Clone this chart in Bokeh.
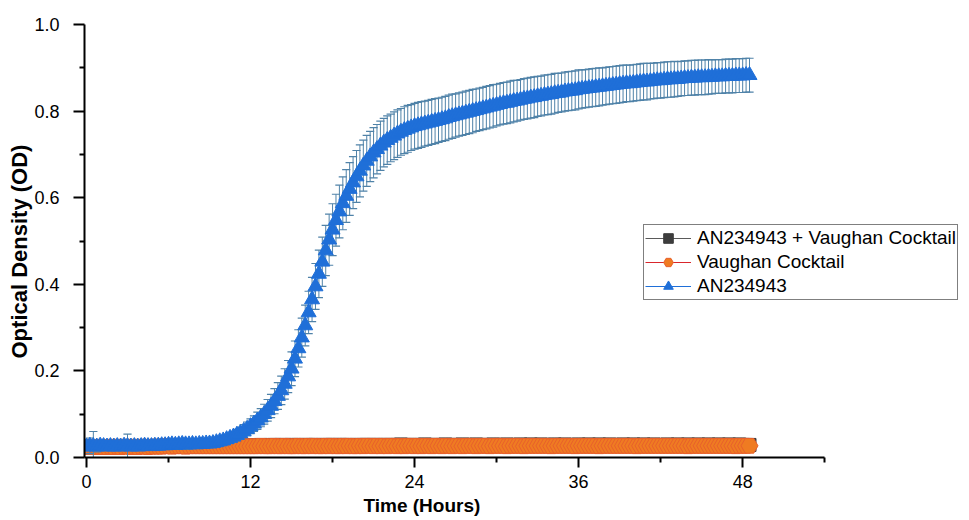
from bokeh.plotting import figure
from bokeh.models import (FixedTicker, Legend, LegendItem, ColumnDataSource,
                          Range1d, PrintfTickFormatter, Title)
from bokeh.embed import file_html
from bokeh.resources import INLINE

# ---------------- data ----------------
interval_h = 0.25  # sampling interval (hours)

x_ticks = [0, 12, 24, 36, 48]
x_minor = [6, 18, 30, 42, 54]
y_ticks = [0.0, 0.2, 0.4, 0.6, 0.8, 1.0]
y_minor = [0.1, 0.3, 0.5, 0.7, 0.9]

series_names = ["AN234943 + Vaughan Cocktail", "Vaughan Cocktail", "AN234943"]

an_od = [
    0.025, 0.027, 0.026, 0.025, 0.027, 0.026, 0.025, 0.026, 0.025,
    0.026, 0.025, 0.027, 0.026, 0.025, 0.026, 0.025, 0.026, 0.027, 0.026, 0.026, 0.027,
    0.027, 0.028, 0.028, 0.029, 0.030, 0.029, 0.030, 0.031, 0.030, 0.030, 0.031, 0.030, 0.031, 0.031, 0.032, 0.032,
    0.033, 0.035, 0.037, 0.039, 0.042, 0.045, 0.048, 0.052, 0.056, 0.061, 0.066, 0.072,
    0.078, 0.085, 0.092, 0.100, 0.109, 0.119, 0.130, 0.142, 0.155, 0.170, 0.187, 0.205,
    0.228, 0.252, 0.277, 0.305, 0.335, 0.365, 0.395, 0.424, 0.452, 0.478, 0.503, 0.526,
    0.548, 0.568, 0.587, 0.604, 0.620, 0.635, 0.649, 0.662, 0.674, 0.685, 0.695, 0.704,
    0.712, 0.720, 0.727, 0.733, 0.738, 0.743, 0.748, 0.752, 0.756, 0.759, 0.762, 0.765,
    0.767, 0.769, 0.771, 0.773, 0.775, 0.777, 0.779, 0.781, 0.783, 0.786, 0.788, 0.790,
    0.792, 0.794, 0.796, 0.798, 0.800, 0.802, 0.804, 0.806, 0.808, 0.810, 0.812, 0.814,
    0.816, 0.818, 0.819, 0.821, 0.823, 0.824, 0.826, 0.828, 0.829, 0.831, 0.832, 0.834,
    0.835, 0.837, 0.838, 0.839, 0.841, 0.842, 0.843, 0.845, 0.846, 0.847, 0.848, 0.850,
    0.851, 0.852, 0.853, 0.854, 0.855, 0.856, 0.857, 0.858, 0.859, 0.860, 0.861, 0.862,
    0.863, 0.864, 0.864, 0.865, 0.866, 0.867, 0.868, 0.868, 0.869, 0.870, 0.871, 0.871,
    0.872, 0.873, 0.873, 0.874, 0.874, 0.875, 0.876, 0.876, 0.877, 0.877, 0.878, 0.878,
    0.878, 0.879, 0.879, 0.880, 0.880, 0.880, 0.881, 0.881, 0.881, 0.882, 0.882, 0.882,
    0.883, 0.883,
]
an_err = [
    0.010, 0.018, 0.034, 0.012, 0.008, 0.007, 0.006, 0.007, 0.006,
    0.006, 0.007, 0.006, 0.028, 0.007, 0.006, 0.006, 0.007, 0.006, 0.006, 0.007, 0.006,
    0.007, 0.008, 0.008, 0.009, 0.010, 0.009, 0.010, 0.011, 0.010, 0.010, 0.009, 0.009, 0.008, 0.008, 0.008, 0.008,
    0.008, 0.009, 0.009, 0.010, 0.010, 0.011, 0.012, 0.013, 0.014, 0.015, 0.016, 0.017,
    0.018, 0.020, 0.021, 0.023, 0.025, 0.027, 0.029, 0.031, 0.033, 0.035, 0.037, 0.039,
    0.041, 0.043, 0.045, 0.047, 0.049, 0.051, 0.053, 0.055, 0.057, 0.058, 0.059, 0.060,
    0.060, 0.061, 0.061, 0.061, 0.061, 0.060, 0.060, 0.060, 0.059, 0.059, 0.058, 0.058,
    0.057, 0.057, 0.056, 0.056, 0.055, 0.055, 0.055, 0.054, 0.054, 0.054, 0.053, 0.053,
    0.053, 0.053, 0.052, 0.052, 0.052, 0.052, 0.051, 0.051, 0.051, 0.051, 0.051, 0.050,
    0.050, 0.050, 0.050, 0.050, 0.050, 0.049, 0.049, 0.049, 0.049, 0.049, 0.049, 0.048,
    0.048, 0.048, 0.048, 0.048, 0.048, 0.047, 0.047, 0.047, 0.047, 0.047, 0.047, 0.046,
    0.046, 0.046, 0.046, 0.046, 0.046, 0.045, 0.045, 0.045, 0.045, 0.045, 0.045, 0.045,
    0.044, 0.044, 0.044, 0.044, 0.044, 0.044, 0.043, 0.043, 0.043, 0.043, 0.043, 0.043,
    0.043, 0.042, 0.042, 0.042, 0.042, 0.042, 0.042, 0.042, 0.041, 0.041, 0.041, 0.041,
    0.041, 0.041, 0.041, 0.041, 0.040, 0.040, 0.040, 0.040, 0.040, 0.040, 0.040, 0.040,
    0.040, 0.040, 0.039, 0.039, 0.039, 0.039, 0.039, 0.039, 0.039, 0.039, 0.039, 0.039,
    0.039, 0.039,
]

vc_od = [
    0.024, 0.025, 0.024, 0.024, 0.025, 0.024, 0.024, 0.025, 0.024,
    0.025, 0.024, 0.025, 0.025, 0.024, 0.025, 0.024, 0.025, 0.025, 0.024, 0.025, 0.025,
    0.025, 0.025, 0.026, 0.026, 0.025, 0.026, 0.026, 0.026, 0.025, 0.026, 0.026, 0.026, 0.026, 0.026, 0.026, 0.026,
    0.026, 0.026, 0.026, 0.026, 0.026, 0.026, 0.026, 0.026, 0.026, 0.026, 0.026, 0.026,
    0.026, 0.026, 0.027, 0.026, 0.026, 0.026, 0.027, 0.026, 0.026, 0.027, 0.026, 0.026,
    0.026, 0.027, 0.026, 0.026, 0.027, 0.026, 0.027, 0.026, 0.026, 0.027, 0.026, 0.027,
    0.026, 0.026, 0.027, 0.026, 0.027, 0.026, 0.026, 0.027, 0.026, 0.027, 0.027, 0.026,
    0.027, 0.026, 0.027, 0.026, 0.027, 0.027, 0.026, 0.027, 0.026, 0.027, 0.027, 0.026,
    0.027, 0.026, 0.027, 0.027, 0.026, 0.027, 0.027, 0.026, 0.027, 0.027, 0.026, 0.027,
    0.027, 0.026, 0.027, 0.027, 0.027, 0.026, 0.027, 0.027, 0.027, 0.026, 0.027, 0.027,
    0.027, 0.027, 0.026, 0.027, 0.027, 0.027, 0.027, 0.026, 0.027, 0.027, 0.027, 0.027,
    0.027, 0.027, 0.027, 0.026, 0.027, 0.027, 0.027, 0.027, 0.027, 0.027, 0.026, 0.027,
    0.027, 0.027, 0.027, 0.027, 0.027, 0.026, 0.027, 0.027, 0.027, 0.027, 0.027, 0.027,
    0.027, 0.027, 0.027, 0.027, 0.026, 0.027, 0.027, 0.027, 0.027, 0.027, 0.027, 0.027,
    0.027, 0.027, 0.027, 0.027, 0.027, 0.027, 0.027, 0.026, 0.027, 0.027, 0.027, 0.027,
    0.027, 0.027, 0.027, 0.027, 0.027, 0.027, 0.027, 0.027, 0.027, 0.026, 0.027, 0.027,
    0.027, 0.027,
]
vc_err = [
    0.006, 0.005, 0.004, 0.004, 0.003, 0.004, 0.003, 0.003, 0.004,
    0.003, 0.003, 0.004, 0.003, 0.003, 0.003, 0.004, 0.003, 0.003, 0.003, 0.003, 0.003,
    0.003, 0.003, 0.003, 0.003, 0.004, 0.003, 0.003, 0.003, 0.003, 0.003, 0.003, 0.003, 0.003, 0.003, 0.003, 0.003,
    0.003, 0.003, 0.003, 0.003, 0.003, 0.003, 0.003, 0.003, 0.003, 0.003, 0.003, 0.003,
    0.003, 0.003, 0.003, 0.003, 0.003, 0.003, 0.003, 0.003, 0.003, 0.003, 0.003, 0.003,
    0.003, 0.003, 0.003, 0.003, 0.003, 0.003, 0.003, 0.003, 0.003, 0.003, 0.003, 0.003,
    0.003, 0.003, 0.003, 0.003, 0.003, 0.003, 0.003, 0.003, 0.003, 0.003, 0.003, 0.003,
    0.003, 0.003, 0.003, 0.003, 0.003, 0.003, 0.003, 0.003, 0.003, 0.003, 0.003, 0.003,
    0.003, 0.003, 0.003, 0.003, 0.003, 0.003, 0.003, 0.003, 0.003, 0.003, 0.003, 0.003,
    0.003, 0.003, 0.003, 0.003, 0.003, 0.003, 0.003, 0.003, 0.003, 0.003, 0.003, 0.003,
    0.003, 0.003, 0.003, 0.003, 0.003, 0.003, 0.003, 0.003, 0.003, 0.003, 0.003, 0.003,
    0.003, 0.003, 0.003, 0.003, 0.003, 0.003, 0.003, 0.003, 0.003, 0.003, 0.003, 0.003,
    0.003, 0.003, 0.003, 0.003, 0.003, 0.003, 0.003, 0.003, 0.003, 0.003, 0.003, 0.003,
    0.003, 0.003, 0.003, 0.003, 0.003, 0.003, 0.003, 0.003, 0.003, 0.003, 0.003, 0.003,
    0.003, 0.003, 0.003, 0.003, 0.003, 0.003, 0.003, 0.003, 0.003, 0.003, 0.003, 0.003,
    0.003, 0.003, 0.003, 0.003, 0.003, 0.003, 0.003, 0.003, 0.003, 0.003, 0.003, 0.003,
    0.003, 0.003,
]

combo_od = [
    0.025, 0.026, 0.025, 0.026, 0.025, 0.026, 0.025, 0.026, 0.026,
    0.026, 0.025, 0.026, 0.026, 0.025, 0.026, 0.026, 0.026, 0.026, 0.026, 0.026, 0.026,
    0.027, 0.026, 0.027, 0.027, 0.026, 0.027, 0.027, 0.027, 0.026, 0.027, 0.027, 0.027, 0.027, 0.027, 0.027, 0.028,
    0.027, 0.028, 0.028, 0.027, 0.028, 0.028, 0.028, 0.028, 0.028, 0.028, 0.028, 0.028,
    0.028, 0.028, 0.029, 0.028, 0.028, 0.029, 0.029, 0.028, 0.029, 0.029, 0.028, 0.029,
    0.029, 0.029, 0.028, 0.029, 0.029, 0.029, 0.029, 0.028, 0.029, 0.029, 0.029, 0.029,
    0.029, 0.029, 0.029, 0.029, 0.029, 0.028, 0.029, 0.029, 0.029, 0.029, 0.029, 0.029,
    0.029, 0.029, 0.029, 0.029, 0.029, 0.029, 0.029, 0.030, 0.029, 0.029, 0.029, 0.029,
    0.029, 0.029, 0.030, 0.029, 0.029, 0.029, 0.029, 0.029, 0.030, 0.029, 0.029, 0.029,
    0.029, 0.030, 0.029, 0.029, 0.029, 0.030, 0.029, 0.029, 0.029, 0.029, 0.030, 0.029,
    0.029, 0.029, 0.030, 0.029, 0.029, 0.029, 0.030, 0.029, 0.029, 0.030, 0.029, 0.029,
    0.030, 0.029, 0.029, 0.029, 0.030, 0.029, 0.029, 0.030, 0.029, 0.029, 0.029, 0.030,
    0.029, 0.029, 0.030, 0.029, 0.029, 0.030, 0.029, 0.029, 0.030, 0.029, 0.029, 0.029,
    0.030, 0.029, 0.029, 0.030, 0.029, 0.029, 0.030, 0.029, 0.029, 0.030, 0.029, 0.029,
    0.029, 0.030, 0.029, 0.029, 0.030, 0.029, 0.029, 0.030, 0.029, 0.029, 0.030, 0.029,
    0.029, 0.030, 0.029, 0.029, 0.030, 0.029, 0.029, 0.030, 0.029, 0.029, 0.030, 0.029,
    0.029, 0.029,
]
combo_err = [
    0.004, 0.003, 0.003, 0.002, 0.002, 0.002, 0.002, 0.002, 0.002,
    0.002, 0.002, 0.002, 0.002, 0.002, 0.002, 0.002, 0.002, 0.002, 0.002, 0.002, 0.002,
    0.002, 0.002, 0.002, 0.002, 0.002, 0.002, 0.002, 0.002, 0.002, 0.002, 0.002, 0.002, 0.002, 0.002, 0.002, 0.002,
    0.002, 0.002, 0.002, 0.002, 0.002, 0.002, 0.002, 0.002, 0.002, 0.002, 0.002, 0.002,
    0.002, 0.002, 0.002, 0.002, 0.002, 0.002, 0.002, 0.002, 0.002, 0.002, 0.002, 0.002,
    0.002, 0.002, 0.002, 0.002, 0.002, 0.002, 0.002, 0.002, 0.002, 0.002, 0.002, 0.002,
    0.002, 0.002, 0.002, 0.002, 0.002, 0.002, 0.002, 0.002, 0.002, 0.002, 0.002, 0.002,
    0.002, 0.002, 0.002, 0.002, 0.002, 0.002, 0.002, 0.002, 0.002, 0.002, 0.002, 0.002,
    0.002, 0.002, 0.002, 0.002, 0.002, 0.002, 0.002, 0.002, 0.002, 0.002, 0.002, 0.002,
    0.002, 0.002, 0.002, 0.002, 0.002, 0.002, 0.002, 0.002, 0.002, 0.002, 0.002, 0.002,
    0.002, 0.002, 0.002, 0.002, 0.002, 0.002, 0.002, 0.002, 0.002, 0.002, 0.002, 0.002,
    0.002, 0.002, 0.002, 0.002, 0.002, 0.002, 0.002, 0.002, 0.002, 0.002, 0.002, 0.002,
    0.002, 0.002, 0.002, 0.002, 0.002, 0.002, 0.002, 0.002, 0.002, 0.002, 0.002, 0.002,
    0.002, 0.002, 0.002, 0.002, 0.002, 0.002, 0.002, 0.002, 0.002, 0.002, 0.002, 0.002,
    0.002, 0.002, 0.002, 0.002, 0.002, 0.002, 0.002, 0.002, 0.002, 0.002, 0.002, 0.002,
    0.002, 0.002, 0.002, 0.002, 0.002, 0.002, 0.002, 0.002, 0.002, 0.002, 0.002, 0.002,
    0.002, 0.002,
]


def make_source(od, err, cap_half=0.3):
    n = min(len(od), len(err))
    t = [i * interval_h for i in range(n)]
    od = od[:n]
    err = err[:n]
    return ColumnDataSource(dict(
        t=t, od=od,
        lo=[v - e for v, e in zip(od, err)],
        hi=[v + e for v, e in zip(od, err)],
        tl=[x - cap_half for x in t],
        tr=[x + cap_half for x in t],
    ))


# ---------------- figure ----------------
x_start = -0.146
x_axis_end = 54
p = figure(width=969, height=520, output_backend="svg", toolbar_location=None,
           x_range=Range1d(x_start, 64.3), y_range=Range1d(0, 1.0),
           min_border_left=84, min_border_right=4, min_border_top=24,
           min_border_bottom=63, background_fill_color="white",
           border_fill_color="white")
p.outline_line_color = None
p.xgrid.visible = False
p.ygrid.visible = False

styles = [
    dict(marker="square", fill="#3d3d3d", edge="#3d3d3d", line="#5a5a5a", err="#3d3d3d", size=13),
    dict(marker="hex", fill="#ef7b22", edge="#e8602c", line="#d9262c", err="#d9262c", size=17),
    dict(marker="triangle", fill="#1f6fd8", edge="#1f6fd8", line="#1f6fd8", err="#4f82a8", size=15),
]
data = [(combo_od, combo_err), (vc_od, vc_err), (an_od, an_err)]

items = []
for name, (od, err), st in zip(series_names, data, styles):
    src = make_source(od, err)
    p.segment(x0="t", y0="lo", x1="t", y1="hi", source=src, line_color=st["err"], line_width=1)
    p.segment(x0="tl", y0="hi", x1="tr", y1="hi", source=src, line_color=st["err"], line_width=1.2)
    p.segment(x0="tl", y0="lo", x1="tr", y1="lo", source=src, line_color=st["err"], line_width=1.2)
    lr = p.line(x="t", y="od", source=src, line_color=st["line"], line_width=1)
    sr = p.scatter(x="t", y="od", source=src, marker=st["marker"], size=st["size"],
                   fill_color=st["fill"], line_color=st["edge"], line_width=1)
    items.append(LegendItem(label=name, renderers=[lr, sr]))

legend = Legend(items=items, location=(559, 157), margin=0, padding=1, spacing=0,
                glyph_width=46, glyph_height=24, label_height=24, label_standoff=6,
                label_text_font="Liberation Sans", label_text_font_size="19px",
                label_text_color="black", border_line_color="black", border_line_width=1,
                background_fill_color="white", background_fill_alpha=1.0)
p.add_layout(legend)

# axes
for ax in (p.xaxis[0], p.yaxis[0]):
    ax.axis_line_width = 2
    ax.axis_line_color = "black"
    ax.major_tick_line_width = 2
    ax.minor_tick_line_width = 2
    ax.major_tick_line_color = "black"
    ax.minor_tick_line_color = "black"
    ax.major_tick_in = 0
    ax.minor_tick_in = 0
    ax.minor_tick_out = 5
    ax.major_label_text_font = "Liberation Sans"
    ax.major_label_text_font_size = "18px"
    ax.major_label_text_color = "black"

p.xaxis[0].ticker = FixedTicker(ticks=x_ticks, minor_ticks=x_minor)
p.xaxis[0].bounds = (x_start, x_axis_end)
p.xaxis[0].major_tick_out = 10
p.xaxis[0].major_label_standoff = 7
p.yaxis[0].ticker = FixedTicker(ticks=y_ticks, minor_ticks=y_minor)
p.yaxis[0].formatter = PrintfTickFormatter(format="%.1f")
p.yaxis[0].major_tick_out = 11
p.yaxis[0].major_label_standoff = 14

# axis titles
p.add_layout(Title(text="Time (Hours)", align="left", offset=279, standoff=4,
                   text_font="Liberation Sans", text_font_style="bold",
                   text_font_size="19px", text_color="black"), "below")
p.add_layout(Title(text="Optical Density (OD)", align="left", offset=99, standoff=0,
                   text_font="Liberation Sans", text_font_style="bold",
                   text_font_size="22px", text_color="black"), "left")

open("out.html", "w").write(file_html(p, INLINE))
